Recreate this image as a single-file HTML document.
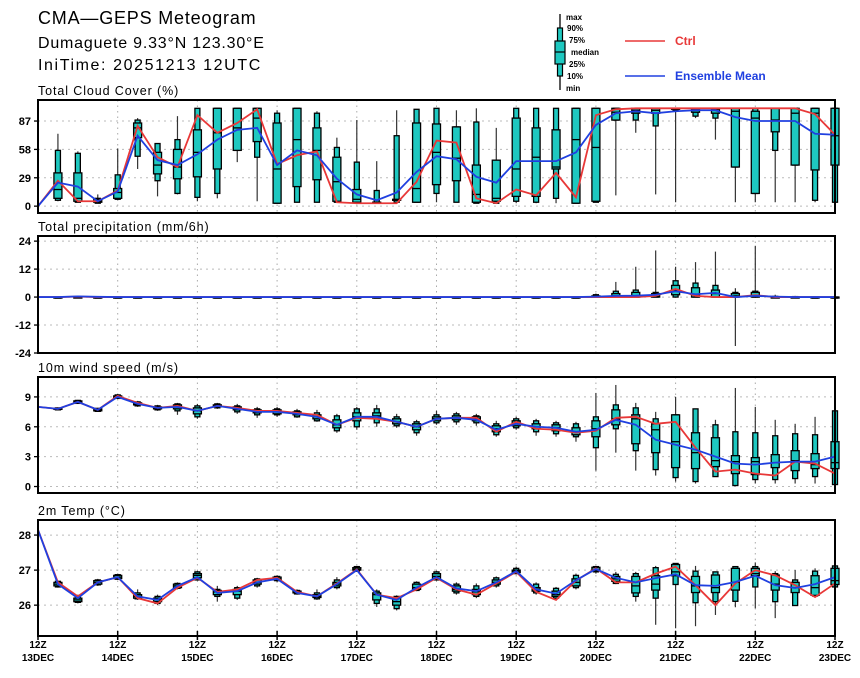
<!DOCTYPE html>
<html><head><meta charset="utf-8"><style>
body{margin:0;background:#fff;width:860px;height:673px;overflow:hidden}
svg text{font-family:"Liberation Sans",sans-serif}
</style></head><body>
<svg id="chart" width="860" height="673" xmlns="http://www.w3.org/2000/svg">
<text x="38" y="24" font-size="18" letter-spacing="0.8">CMA—GEPS Meteogram</text>
<text x="38" y="48" font-size="16" letter-spacing="0.8">Dumaguete 9.33°N 123.30°E</text>
<text x="38" y="70" font-size="16" letter-spacing="1.6">IniTime: 20251213 12UTC</text>
<g>
<line x1="560" y1="14" x2="560" y2="90" stroke="#000" stroke-width="1.3"/>
<rect x="557.5" y="28" width="5" height="48" fill="#1ec8c0" stroke="#000" stroke-width="1.2"/>
<rect x="555" y="41" width="10" height="23" fill="#1ec8c0" stroke="#000" stroke-width="1.2"/>
<line x1="555" y1="52" x2="565" y2="52" stroke="#000" stroke-width="1.2"/>
<g font-size="8" font-weight="bold">
<text x="566" y="20">max</text><text x="567" y="31">90%</text><text x="569" y="43">75%</text><text x="571" y="55">median</text><text x="569" y="67">25%</text><text x="567" y="79">10%</text><text x="566" y="91">min</text></g>
</g>
<g><line x1="625" y1="41" x2="665" y2="41" stroke="#e83838" stroke-width="1.5"/><text x="675" y="45" font-size="12" font-weight="bold" fill="#e83838">Ctrl</text></g>
<g><line x1="625" y1="76" x2="665" y2="76" stroke="#2040e0" stroke-width="1.5"/><text x="675" y="80" font-size="12" font-weight="bold" fill="#2040e0">Ensemble Mean</text></g>
</svg>
<script>
const dayLabels=["13DEC","14DEC","15DEC","16DEC","17DEC","18DEC","19DEC","20DEC","21DEC","22DEC","23DEC"];
// Cloud cover
const cloudCtrl=[0,26,5,5,16,82,50,40,93,75,85,99,43,52,56,4,3,3,3,25,67,65,8,3,17,11,34,9,93,99,100,100,100,100,100,100,100,100,100,94,73];
const cloudMean=[0,24,20,5,15,72,47,42,53,68,78,80,42,57,52,28,12,6,14,35,51,48,30,24,46,46,46,55,83,95,97,95,97,98,98,91,87,87,87,74,73];
const cloudBox=[null,[5,6,8,17,34,57,74],[4,4,5,8,34,54,56],[3,3,4,5,7,8,12],[6,7,8,14,18,32,59],[38,51,70,80,85,88,90],[10,26,33,42,55,64,64],[12,13,28,40,58,68,92],[5,9,30,55,78,100,100],[8,13,38,75,100,100,100],[45,57,57,80,100,100,100],[5,50,66,90,100,100,100],[3,3,3,38,85,95,98],[4,4,20,68,100,100,100],[4,4,27,57,80,95,97],[4,4,5,25,50,60,70],[4,4,4,7,17,45,88],[4,4,4,4,4,16,46],[4,4,6,6,7,72,98],[4,4,4,18,85,99,99],[4,13,22,55,84,100,100],[4,4,26,49,81,81,98],[3,3,4,12,42,86,100],[3,3,5,8,47,47,80],[3,5,10,38,90,100,100],[3,4,10,50,80,100,100],[3,8,38,40,78,100,100],[3,3,3,68,100,100,100],[4,4,5,60,100,100,100],[11,88,88,96,100,100,100],[75,88,95,98,100,100,100],[12,82,95,98,100,100,100],[4,98,99,100,100,100,100],[90,92,96,99,100,100,100],[68,90,95,99,100,100,100],[4,40,40,97,100,100,100],[4,13,13,90,97,100,100],[4,57,76,88,100,100,100],[4,42,42,95,100,100,100],[4,6,37,95,100,100,100],[4,4,42,72,100,100,100]];
// Precip
const precCtrl=[0,0,0.2,0,0,0,0,0,0,0,0,0,0,0,0,0,0,0,0,0,0,0,0,0,0,0,0,0,0,0,0,0.5,3.5,0.5,0,0,0.8,0,0,0,0];
const precMean=[0,0,0.3,0.1,0,0,0,0,0,0,0,0,0,0,0,0,0,0,0,0,0,0,0,0,0,0,0,0,0.2,0.5,0.6,1,2.5,1.2,1.8,0,0.5,0.2,0,0,0];
const precBox=[null,[0,0,0,0,0,0,0.2],[0,0,0,0,0,0.2,0.5],[0,0,0,0,0,0,0.3],[0,0,0,0,0,0,0.2],[0,0,0,0,0,0,0.2],[0,0,0,0,0,0,0],[0,0,0,0,0,0,0],[0,0,0,0,0,0,0],[0,0,0,0,0,0,0],[0,0,0,0,0,0,0],[0,0,0,0,0,0,0],[0,0,0,0,0,0,0],[0,0,0,0,0,0,0],[0,0,0,0,0,0,0],[0,0,0,0,0,0,0],[0,0,0,0,0,0,0],[0,0,0,0,0,0,0],[0,0,0,0,0,0,0],[0,0,0,0,0,0,0],[0,0,0,0,0,0,0],[0,0,0,0,0,0,0],[0,0,0,0,0,0,0],[0,0,0,0,0,0,0],[0,0,0,0,0,0,0],[0,0,0,0,0,0,0],[0,0,0,0,0,0,0],[0,0,0,0,0,0,0],[0,0,0,0,0.5,1,1.5],[0,0,0,0.5,1.5,2.5,6.5],[0,0,0,0.5,2,3,13],[0,0,0,0.3,1.5,2,20],[0,0,1,3,5,7,13],[0,0,0,1,4,6,15],[0,0,0,1.5,3,5,19.5],[-21,0,0,0.5,1.5,2,3.8],[0,0,0,0.5,2,2.5,22],[0,0,0,0,0,0.3,1],[0,0,0,0,0,0.2,0.5],[0,0,0,0,0,0,0],[0,0,0,0,0,0,0]];
// Wind
const windCtrl=[8,7.8,8.5,7.7,9.1,8.4,7.9,8.1,7.6,8.1,7.9,7.6,7.6,7.4,7.2,6.2,6.9,6.8,6.5,6.0,6.8,6.9,6.9,5.5,6.5,5.8,5.7,5.4,5.6,6.9,7.0,6.3,6.5,3.9,1.5,1.7,1.3,1.1,2.5,2.3,1.3];
const windMean=[8,7.8,8.5,7.7,9.0,8.3,7.9,8.0,7.6,8.1,7.8,7.5,7.5,7.3,7.0,6.2,7.0,7.0,6.5,6.0,6.8,6.9,6.7,5.7,6.3,6.0,5.9,5.5,5.7,6.7,6.2,4.7,4.2,3.7,3.0,2.3,2.2,2.4,2.5,2.5,3.0];
const windBox=[null,[7.7,7.7,7.75,7.8,7.85,7.9,7.9],[8.3,8.35,8.4,8.5,8.6,8.65,8.7],[7.5,7.55,7.6,7.7,7.8,7.85,7.9],[8.8,8.85,8.9,9.0,9.1,9.2,9.3],[8.0,8.1,8.2,8.3,8.4,8.5,8.6],[7.6,7.7,7.8,7.9,8.0,8.1,8.2],[7.2,7.6,7.8,8.0,8.2,8.3,8.4],[6.8,7.0,7.3,7.6,7.9,8.1,8.3],[7.8,7.9,8.0,8.1,8.2,8.3,8.4],[7.3,7.5,7.7,7.8,8.0,8.1,8.3],[6.9,7.2,7.4,7.5,7.7,7.8,8.0],[7.0,7.2,7.3,7.5,7.7,7.8,8.0],[6.9,7.0,7.2,7.3,7.5,7.6,7.8],[6.5,6.6,6.8,7.0,7.2,7.4,7.7],[5.4,5.6,5.9,6.2,6.7,7.1,7.3],[5.7,6.0,6.6,7.0,7.4,7.8,8.0],[6.0,6.4,6.8,7.1,7.4,7.8,8.2],[5.9,6.1,6.3,6.5,6.8,7.0,7.3],[5.1,5.4,5.7,6.0,6.3,6.5,6.7],[6.2,6.4,6.6,6.8,7.0,7.2,7.6],[6.2,6.5,6.7,6.9,7.1,7.3,7.5],[6.1,6.4,6.6,6.8,7.0,7.1,7.3],[5.0,5.2,5.5,5.8,6.1,6.3,6.6],[5.7,5.9,6.1,6.3,6.6,6.8,7.0],[5.1,5.5,5.8,6.0,6.3,6.6,6.8],[5.0,5.3,5.6,5.9,6.2,6.4,6.6],[4.5,5.0,5.2,5.5,5.9,6.3,6.5],[1.6,3.9,5.0,5.8,6.6,7.0,9.4],[3.4,5.8,6.2,6.8,7.7,8.2,10.2],[1.6,3.6,4.3,6.8,7.2,7.9,8.4],[1.1,1.7,3.4,5.7,6.3,6.8,7.5],[0.5,0.9,1.9,4.5,7.2,7.2,9.0],[0.3,0.5,1.8,3.4,5.4,7.8,7.8],[1.0,1.0,2.0,2.6,4.9,6.2,6.7],[0.1,0.1,1.3,2.5,3.1,5.5,9.9],[0.3,0.7,1.2,2.5,2.9,5.4,8.0],[0.3,0.7,1.9,2.4,3.2,5.1,6.7],[0.3,0.8,1.6,2.6,3.6,5.3,6.3],[0.3,1.0,1.8,2.2,3.3,5.2,7.0],[0.2,0.2,1.8,2.4,4.5,7.6,7.6]];
// Temperature
const tempCtrl=[28.15,26.65,26.25,26.65,26.8,26.2,26.05,26.5,26.78,26.38,26.45,26.72,26.78,26.38,26.25,26.62,27.02,26.3,26.2,26.45,26.78,26.45,26.3,26.62,26.95,26.38,26.15,26.7,27.05,26.65,26.65,26.9,27.1,26.57,26.0,26.62,27.0,26.85,26.57,26.23,26.62];
const tempMean=[28.15,26.6,26.2,26.65,26.8,26.25,26.15,26.55,26.8,26.35,26.4,26.65,26.75,26.35,26.25,26.6,27.0,26.3,26.15,26.5,26.8,26.48,26.4,26.65,26.97,26.45,26.33,26.71,27.03,26.78,26.65,26.77,26.88,26.57,26.55,26.66,26.84,26.57,26.49,26.6,26.8];
const tempBox=[null,[26.5,26.52,26.55,26.6,26.65,26.68,26.7],[26.05,26.08,26.1,26.15,26.2,26.25,26.3],[26.55,26.58,26.6,26.65,26.7,26.72,26.75],[26.72,26.74,26.76,26.8,26.85,26.87,26.9],[26.15,26.18,26.2,26.25,26.3,26.35,26.45],[26.0,26.05,26.1,26.15,26.2,26.25,26.3],[26.45,26.48,26.5,26.55,26.6,26.62,26.65],[26.7,26.72,26.78,26.85,26.9,26.95,26.98],[26.1,26.25,26.3,26.38,26.42,26.45,26.55],[26.15,26.2,26.3,26.4,26.45,26.5,26.55],[26.5,26.55,26.6,26.65,26.72,26.75,26.78],[26.65,26.7,26.72,26.75,26.8,26.82,26.85],[26.3,26.32,26.35,26.38,26.4,26.42,26.45],[26.15,26.18,26.22,26.25,26.3,26.35,26.45],[26.45,26.5,26.55,26.6,26.65,26.72,26.8],[26.95,26.97,27.0,27.03,27.07,27.1,27.12],[25.95,26.05,26.15,26.3,26.35,26.4,26.45],[25.85,25.9,26.0,26.1,26.2,26.25,26.28],[26.4,26.42,26.45,26.5,26.6,26.65,26.68],[26.7,26.72,26.75,26.82,26.9,26.95,26.98],[26.3,26.35,26.4,26.45,26.55,26.6,26.65],[26.2,26.25,26.3,26.38,26.45,26.55,26.62],[26.5,26.55,26.6,26.65,26.72,26.78,26.82],[26.88,26.9,26.93,26.97,27.0,27.05,27.1],[26.3,26.35,26.4,26.45,26.5,26.6,26.65],[26.15,26.2,26.25,26.3,26.4,26.48,26.52],[26.45,26.5,26.55,26.65,26.75,26.85,26.9],[26.9,26.95,26.98,27.02,27.08,27.1,27.12],[26.6,26.62,26.68,26.75,26.82,26.88,26.95],[26.1,26.25,26.35,26.55,26.82,26.9,26.95],[25.44,26.2,26.43,26.6,26.84,27.07,27.12],[25.34,26.59,26.84,26.95,27.16,27.19,27.19],[25.4,26.07,26.36,26.55,26.82,26.97,27.12],[25.72,26.1,26.36,26.5,26.86,26.95,26.95],[25.94,26.11,26.43,26.65,27.05,27.1,27.1],[25.91,26.52,26.84,26.9,27.05,27.1,27.22],[25.63,26.1,26.43,26.6,26.86,26.9,26.97],[25.99,25.99,26.36,26.5,26.65,26.72,27.0],[26.26,26.26,26.28,26.5,26.84,26.97,27.05],[26.5,26.52,26.59,26.7,27.05,27.12,27.15]];
const cloudTicks=[0,29,58,87], precTicks=[-24,-12,0,12,24], windTicks=[0,3,6,9], tempTicks=[26,27,28];

const svg=document.getElementById('chart');
const NS='http://www.w3.org/2000/svg';
const X0=38,X1=835,NT=40;
function xs(i){return X0+(X1-X0)*i/NT;}
function mk(tag,attrs,parent){const e=document.createElementNS(NS,tag);for(const k in attrs)e.setAttribute(k,attrs[k]);(parent||svg).appendChild(e);return e;}
const panels=[
 {name:'cloud',title:'Total Cloud Cover (%)',top:100,bot:213,vmin:-7,vmax:108.5,ticks:cloudTicks,ctrl:cloudCtrl,mean:cloudMean,box:cloudBox},
 {name:'precip',title:'Total precipitation (mm/6h)',top:236,bot:353,vmin:-24,vmax:26.2,ticks:precTicks,ctrl:precCtrl,mean:precMean,box:precBox},
 {name:'wind',title:'10m wind speed (m/s)',top:377,bot:493,vmin:-0.65,vmax:11.0,ticks:windTicks,ctrl:windCtrl,mean:windMean,box:windBox},
 {name:'temp',title:'2m Temp (°C)',top:520,bot:636,vmin:25.12,vmax:28.43,ticks:tempTicks,ctrl:tempCtrl,mean:tempMean,box:tempBox}
];
panels.forEach((p,pi)=>{
 const g=mk('g',{});
 
 
 const ys=v=>p.bot-(v-p.vmin)/(p.vmax-p.vmin)*(p.bot-p.top);
 const t=mk('text',{x:38,y:p.top-5,'font-size':12.5,'letter-spacing':'0.9'},g);t.textContent=p.title;
 
 
 for(let d=1;d<10;d++){mk('line',{x1:xs(d*4),x2:xs(d*4),y1:p.top,y2:p.bot,stroke:'#aaa','stroke-width':1,'stroke-dasharray':'1.5,4'},g);}
 p.ticks.forEach(v=>{
  const y=ys(v);
  mk('line',{x1:X0,x2:X1,y1:y,y2:y,stroke:'#bbb','stroke-width':1,'stroke-dasharray':'2,4'},g);
  mk('line',{x1:X0-4,x2:X0,y1:y,y2:y,stroke:'#000','stroke-width':1.3},g);
  const tl=mk('text',{x:X0-7,y:y+4,'font-size':11,'font-weight':'bold','text-anchor':'end'},g);tl.textContent=v;
  
  
 });
 p.box.forEach((b,i)=>{
  if(!b)return;
  const x=xs(i);
  const bg=mk('g',{},g);
  
  
  mk('line',{x1:x,x2:x,y1:ys(b[0]),y2:ys(b[6]),stroke:'#333','stroke-width':1.2},bg);
  mk('rect',{x:x-2.5,y:ys(b[5]),width:5,height:Math.max(1,ys(b[1])-ys(b[5])),fill:'#1ec8c0',stroke:'#000','stroke-width':1.3},bg);
  mk('rect',{x:x-4,y:ys(b[4]),width:8,height:Math.max(1,ys(b[2])-ys(b[4])),fill:'#1ec8c0',stroke:'#000','stroke-width':1.3},bg);
  mk('line',{x1:x-4,x2:x+4,y1:ys(b[3]),y2:ys(b[3]),stroke:'#000','stroke-width':1.3},bg);
 });
 [['ctrl',p.ctrl,'#e83838'],['mean',p.mean,'#2040e0']].forEach(([n,arr,c])=>{
  const pl=mk('polyline',{points:arr.map((v,i)=>xs(i)+','+ys(v)).join(' '),fill:'none',stroke:c,'stroke-width':1.8},g);
  
  
 });
 mk('rect',{x:X0,y:p.top,width:X1-X0,height:p.bot-p.top,fill:'none',stroke:'#000','stroke-width':2},g);
 if(pi===3){
  dayLabels.forEach((d,k)=>{
   const x=xs(k*4);
   mk('line',{x1:x,x2:x,y1:p.bot-5,y2:p.bot+4,stroke:'#000','stroke-width':1.5},g);
   const a=mk('text',{x:x,y:648,'font-size':10,'font-weight':'bold','text-anchor':'middle'},g);a.textContent='12Z';
   
   
   const b=mk('text',{x:x,y:661,'font-size':10,'font-weight':'bold','text-anchor':'middle'},g);b.textContent=d;
   
   
  });
 }
});
</script>
</body></html>
